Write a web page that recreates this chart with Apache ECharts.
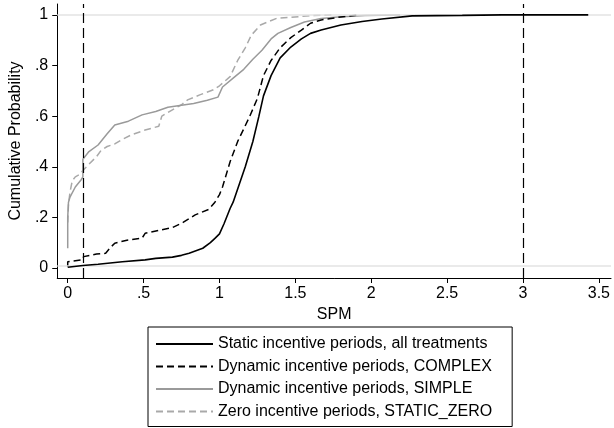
<!DOCTYPE html>
<html>
<head>
<meta charset="utf-8">
<script src="https://cdn.jsdelivr.net/npm/echarts@6/dist/echarts.min.js"></script>
<style>
html,body{margin:0;padding:0;background:#fff;}
#c{width:614px;height:428px;}
</style>
</head>
<body>
<div id="c"></div>
<script>
// ---- data ----
var seriesNames = [
  'Static incentive periods, all treatments',
  'Dynamic incentive periods, COMPLEX',
  'Dynamic incentive periods, SIMPLE',
  'Zero incentive periods, STATIC_ZERO'
];
var staticAll = [[0,0.003],[0.005,0.008],[0.1,0.01],[0.2,0.015],[0.36,0.025],[0.51,0.032],[0.58,0.038],[0.69,0.043],[0.75,0.05],[0.80,0.058],[0.89,0.078],[0.94,0.1],[0.97,0.117],[1.0,0.135],[1.03,0.175],[1.07,0.235],[1.09,0.26],[1.13,0.33],[1.17,0.40],[1.22,0.50],[1.26,0.60],[1.29,0.68],[1.34,0.76],[1.40,0.83],[1.47,0.873],[1.54,0.905],[1.60,0.927],[1.67,0.94],[1.80,0.96],[1.94,0.974],[2.07,0.984],[2.27,0.996],[2.6,0.998],[2.86,1.0],[3.43,1.0]];
var dynComplex = [[0,0.005],[0,0.025],[0.095,0.032],[0.105,0.045],[0.19,0.055],[0.25,0.058],[0.28,0.08],[0.31,0.098],[0.39,0.11],[0.49,0.118],[0.51,0.137],[0.61,0.15],[0.69,0.16],[0.76,0.18],[0.84,0.21],[0.93,0.232],[0.97,0.26],[1.0,0.29],[1.02,0.32],[1.07,0.42],[1.12,0.50],[1.16,0.55],[1.2,0.6],[1.25,0.67],[1.29,0.76],[1.34,0.82],[1.40,0.87],[1.47,0.91],[1.54,0.94],[1.60,0.967],[1.67,0.98],[1.78,0.99],[1.92,1.0]];
var dynSimple = [[0,0.078],[0,0.2],[0.005,0.26],[0.015,0.28],[0.05,0.32],[0.09,0.35],[0.1,0.36],[0.1,0.43],[0.14,0.46],[0.2,0.486],[0.26,0.53],[0.31,0.565],[0.40,0.58],[0.49,0.605],[0.58,0.618],[0.66,0.635],[0.75,0.643],[0.83,0.65],[0.92,0.663],[0.99,0.675],[1.02,0.715],[1.10,0.755],[1.16,0.785],[1.22,0.825],[1.28,0.86],[1.34,0.905],[1.385,0.927],[1.47,0.95],[1.56,0.972],[1.67,0.986],[1.78,0.992],[1.96,0.998],[2.19,1.0]];
var zeroStatic = [[0,0.18],[0.005,0.25],[0.015,0.30],[0.03,0.345],[0.05,0.36],[0.08,0.37],[0.1,0.385],[0.14,0.41],[0.19,0.44],[0.22,0.465],[0.26,0.48],[0.31,0.49],[0.35,0.505],[0.42,0.526],[0.51,0.545],[0.57,0.555],[0.6,0.56],[0.62,0.6],[0.69,0.625],[0.75,0.645],[0.79,0.664],[0.87,0.684],[0.96,0.704],[1.0,0.72],[1.07,0.756],[1.12,0.82],[1.17,0.87],[1.21,0.92],[1.27,0.96],[1.33,0.975],[1.38,0.987],[1.47,0.99],[1.60,0.997],[1.75,1.0]];
var xTickValues = [0,0.5,1,1.5,2,2.5,3,3.5];
var xTickLabels = ['0','.5','1','1.5','2','2.5','3','3.5'];
var yTickValues = [0,0.2,0.4,0.6,0.8,1];
var yTickLabels = ['0','.2','.4','.6','.8','1'];
var refX = [0.1, 3];
var refY = [0.007, 1];

// ---- chart ----
var FONT = 'Liberation Sans, Arial, Helvetica, sans-serif';
function labelFor(values, labels){
  return function(v){
    for (var i=0;i<values.length;i++){ if (Math.abs(values[i]-v)<1e-9) return labels[i]; }
    return '';
  };
}
var chart = echarts.init(document.getElementById('c'), null, {renderer:'canvas'});
var mkX = refX.map(function(v){ return {xAxis:v, lineStyle:{color:'#000', width:1.2, type:[10,5]}}; });
var mkY = refY.map(function(v){ return {yAxis:v, lineStyle:{color:'#e3e3e3', width:1.5, type:'solid'}}; });
chart.setOption({
  animation:false,
  backgroundColor:'#fff',
  textStyle:{fontFamily:FONT},
  grid:{left:57, right:3, top:4, bottom:150, containLabel:false},
  xAxis:{
    type:'value', min:-0.069, max:3.58,
    name:'SPM', nameLocation:'middle', nameGap:28,
    nameTextStyle:{fontSize:16, color:'#000', fontFamily:FONT},
    axisLine:{show:true, onZero:false, lineStyle:{color:'#000', width:1}},
    axisTick:{show:true, customValues:xTickValues, length:5, lineStyle:{color:'#000', width:1}},
    axisLabel:{customValues:xTickValues, formatter:labelFor(xTickValues,xTickLabels), margin:8, fontSize:16, color:'#000', fontFamily:FONT},
    splitLine:{show:false}
  },
  yAxis:{
    type:'value', min:-0.0395, max:1.043,
    name:'Cumulative Probability', nameLocation:'middle', nameGap:26,
    nameTextStyle:{fontSize:16, color:'#000', fontFamily:FONT},
    axisLine:{show:true, onZero:false, lineStyle:{color:'#000', width:1}},
    axisTick:{show:true, customValues:yTickValues, length:5, lineStyle:{color:'#000', width:1}},
    axisLabel:{customValues:yTickValues, formatter:labelFor(yTickValues,yTickLabels), margin:9, fontSize:16, color:'#000', fontFamily:FONT},
    splitLine:{show:false}
  },
  legend:{
    orient:'vertical', left:148, top:327, height:300,
    padding:[9,20,7,7],
    itemWidth:57, itemHeight:14, itemGap:6.5,
    borderColor:'#000', borderWidth:1,
    itemStyle:{color:'rgba(0,0,0,0)', borderColor:'rgba(0,0,0,0)', borderWidth:0, opacity:0},
    textStyle:{fontSize:16, color:'#000', fontFamily:FONT, lineHeight:14},
    data:seriesNames
  },
  series:[
    {type:'line', name:'refs', data:[], z:1, silent:true,
     markLine:{silent:true, symbol:['none','none'], label:{show:false}, animation:false, data:mkY.concat(mkX)}},
    {type:'line', name:seriesNames[3], data:zeroStatic, symbol:'none', z:2,
     lineStyle:{color:'#a9a9a9', width:1.5, type:[7,4]}, itemStyle:{color:'#a9a9a9'}},
    {type:'line', name:seriesNames[2], data:dynSimple, symbol:'none', z:3,
     lineStyle:{color:'#9a9a9a', width:1.5, type:'solid'}, itemStyle:{color:'#9a9a9a'}},
    {type:'line', name:seriesNames[1], data:dynComplex, symbol:'none', z:4,
     lineStyle:{color:'#000', width:1.5, type:[7,4]}, itemStyle:{color:'#000'}},
    {type:'line', name:seriesNames[0], data:staticAll, symbol:'none', z:5,
     lineStyle:{color:'#000', width:1.6, type:'solid'}, itemStyle:{color:'#000'}}
  ]
});
</script>
</body>
</html>
